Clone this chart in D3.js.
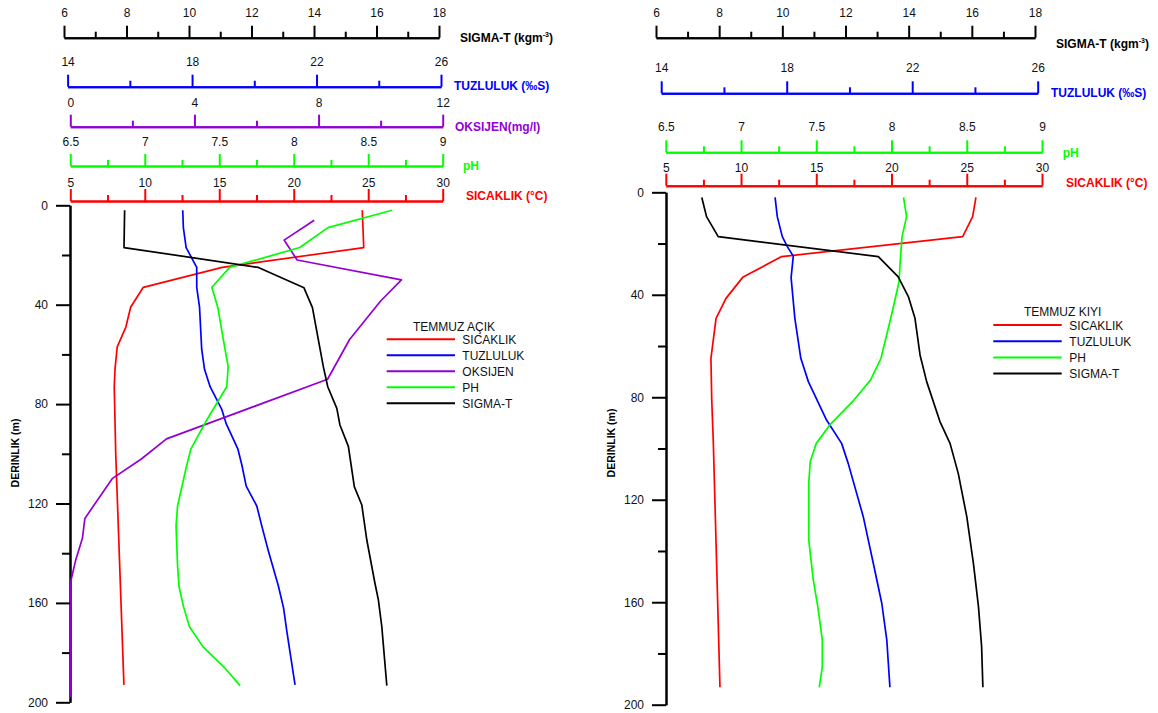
<!DOCTYPE html>
<html>
<head>
<meta charset="utf-8">
<script src="https://cdn.jsdelivr.net/npm/d3@7"></script>
<style>
  body { margin: 0; background: #fff; }
  svg { display: block; font-family: "Liberation Sans", Arial, sans-serif; }
</style>
</head>
<body>
<svg id="chart" width="1158" height="713"></svg>
<script>
// ---- Tick labels of the scales ----
const sigmaTicks = [6, 8, 10, 12, 14, 16, 18];
const tuzTicks = [14, 18, 22, 26];
const oksTicks = [0, 4, 8, 12];
const phTicks = [6.5, 7, 7.5, 8, 8.5, 9];
const sicTicks = [5, 10, 15, 20, 25, 30];
const depthTicks = [0, 40, 80, 120, 160, 200];

// ---- TEMMUZ AÇIK profiles (depth in m, value) ----
const acikSicDepth = [2, 17, 25, 33, 41, 49, 57, 66, 73, 100, 193];
const acikSic      = [24.6, 24.7, 15.2, 9.9, 9.05, 8.73, 8.15, 8.0, 7.95, 8.05, 8.6];

const acikTuzDepth = [2, 9, 17, 25, 33, 41, 58, 66, 73, 82, 88, 98, 104.5, 113, 121, 129, 139, 153, 162, 171, 180, 193];
const acikTuz      = [17.7, 17.72, 17.81, 18.15, 18.15, 18.24, 18.31, 18.4, 18.58, 18.95, 19.1, 19.47, 19.6, 19.74, 20.08, 20.24, 20.45, 20.77, 20.94, 21.04, 21.15, 21.31];

const acikOksDepth = [6, 14, 22, 30, 38.5, 54, 70, 94, 102, 110, 126, 134, 142.5, 151, 175, 198];
const acikOks      = [7.86, 6.89, 7.31, 10.67, 10.0, 9.0, 8.29, 3.1, 2.3, 1.35, 0.47, 0.39, 0.18, 0.02, 0, 0.01];

const acikPhDepth = [2, 9, 17, 25, 33, 41, 55, 65, 73, 87, 98, 105, 121, 129, 145, 153.5, 161.5, 169.6, 177.6, 185.7, 193.3];
const acikPh      = [8.66, 8.23, 8.04, 7.57, 7.45, 7.49, 7.53, 7.56, 7.55, 7.41, 7.31, 7.28, 7.22, 7.21, 7.22, 7.23, 7.26, 7.30, 7.39, 7.53, 7.64];

const acikSigmaDepth = [2, 17, 25, 33.2, 41.2, 57.6, 65, 73, 81.7, 88.4, 97, 113.2, 120.6, 134.7, 152.1, 158.8, 169.6, 193.3];
const acikSigma      = [7.94, 7.92, 12.22, 13.68, 13.95, 14.19, 14.3, 14.44, 14.73, 14.83, 15.1, 15.29, 15.53, 15.69, 15.95, 16.06, 16.17, 16.33];

// ---- TEMMUZ KIYI profiles (depth in m, value) ----
const kiyiSicDepth = [2, 9.5, 17.3, 25.1, 33.2, 41.4, 49.2, 64.8, 80.4, 98, 193.2];
const kiyiSic      = [25.61, 25.39, 24.73, 12.7, 10.11, 9.0, 8.34, 8.0, 8.05, 8.16, 8.6];

const kiyiTuzDepth = [2, 9.5, 17.3, 21.2, 24.9, 33.3, 49.2, 64.8, 73.9, 88.9, 98, 105.8, 126.6, 144.8, 160.4, 174.7, 193.2];
const kiyiTuz      = [17.63, 17.70, 17.86, 18.02, 18.21, 18.14, 18.26, 18.45, 18.69, 19.27, 19.75, 19.96, 20.44, 20.76, 21.03, 21.19, 21.29];

const kiyiPhDepth = [2, 9.5, 17.3, 25.1, 34.9, 47.9, 64.8, 73.3, 81.1, 90.8, 98, 105.1, 113.6, 135.7, 151.3, 161.7, 174.7, 185.2, 193.2];
const kiyiPh      = [8.08, 8.10, 8.07, 8.06, 8.05, 8.0, 7.93, 7.86, 7.75, 7.59, 7.50, 7.46, 7.45, 7.45, 7.48, 7.51, 7.54, 7.54, 7.52];

const kiyiSigmaDepth = [2, 9.5, 17.3, 25.1, 33, 40.7, 49.2, 63.5, 73.9, 89.5, 98, 109.7, 126.6, 144.8, 161.7, 177.4, 193.2];
const kiyiSigma      = [7.45, 7.6, 7.97, 13.04, 13.67, 13.99, 14.2, 14.36, 14.57, 14.99, 15.31, 15.57, 15.84, 16.05, 16.21, 16.31, 16.35];

// ---- drawing ----
const svg = d3.select("#chart");
const COLORS = { sic: "#ff0000", tuz: "#0000ff", oks: "#9400d3", ph: "#00ff00", sigma: "#000000" };

// midpoints between consecutive major ticks
const minorOf = t => d3.pairs(t).map(([a, b]) => (a + b) / 2);

function topAxis(spec) {
  const scale = d3.scaleLinear().domain([spec.ticks[0], spec.ticks[spec.ticks.length - 1]]).range([spec.x0, spec.x1]);
  const g = svg.append("g").attr("transform", `translate(0,${spec.y})`).attr("color", spec.color);
  g.append("g").call(d3.axisTop(scale).tickValues(minorOf(spec.ticks)).tickSize(6).tickSizeOuter(0).tickFormat(""));
  g.append("g").call(d3.axisTop(scale).tickValues(spec.ticks).tickSize(12).tickSizeOuter(0)
      .tickPadding(spec.pad).tickFormat(d => String(d)));
  g.selectAll("path, line").attr("stroke-width", 2);
  g.selectAll("text").attr("fill", "#111").attr("font-size", 12).attr("font-family", "Liberation Sans, Arial, sans-serif");
  const title = svg.append("text").attr("x", spec.tx).attr("y", spec.ty + 4)
    .attr("fill", spec.color).attr("font-weight", "bold").attr("font-size", 12);
  if (spec.sup) {
    title.append("tspan").text(spec.title);
    title.append("tspan").text(spec.sup).attr("font-size", 7).attr("dy", -5);
    title.append("tspan").text(")").attr("dy", 5);
  } else {
    title.text(spec.title);
  }
  return scale;
}

function depthAxis(spec) {
  const scale = d3.scaleLinear().domain([0, 200]).range([spec.y0, spec.y1]);
  const g = svg.append("g").attr("transform", `translate(${spec.x},0)`).attr("color", "#000");
  g.append("g").call(d3.axisLeft(scale).tickValues(minorOf(depthTicks)).tickSize(8).tickSizeOuter(0).tickFormat(""));
  g.append("g").call(d3.axisLeft(scale).tickValues(depthTicks).tickSize(14).tickSizeOuter(0).tickPadding(8));
  g.selectAll("path, line").attr("stroke-width", 2);
  g.selectAll("text").attr("fill", "#111").attr("font-size", 12).attr("font-family", "Liberation Sans, Arial, sans-serif");
  svg.append("text").attr("transform", `translate(${spec.tx},${spec.ty}) rotate(-90)`)
    .attr("text-anchor", "middle").attr("dy", 4).attr("font-weight", "bold").attr("font-size", 10.5)
    .attr("fill", "#000").text("DERINLIK (m)");
  return scale;
}

function profile(scaleX, scaleY, depths, values, color) {
  const pts = depths.map((d, i) => [d, values[i]]);
  svg.append("path").datum(pts)
    .attr("fill", "none").attr("stroke", color).attr("stroke-width", 1.7).attr("stroke-linejoin", "round")
    .attr("d", d3.line().x(p => scaleX(p[1])).y(p => scaleY(p[0])));
}

function legend(spec) {
  svg.append("text").attr("x", spec.tx).attr("y", spec.ty + 4).attr("font-size", 12).attr("fill", "#111").text(spec.title);
  spec.items.forEach((it, i) => {
    const y = spec.y0 + i * spec.step;
    svg.append("line").attr("x1", spec.x0).attr("x2", spec.x1).attr("y1", y).attr("y2", y)
      .attr("stroke", it.color).attr("stroke-width", 2);
    svg.append("text").attr("x", spec.lx).attr("y", y + 4.5).attr("font-size", 12).attr("fill", "#111").text(it.label);
  });
}

// ---- TEMMUZ AÇIK panel ----
const aSigma = topAxis({ ticks: sigmaTicks, x0: 64, x1: 439, y: 37.7, pad: 8.5, color: COLORS.sigma, title: "SIGMA-T (kgm", sup: "-3", tx: 460, ty: 37.7 });
const aTuz = topAxis({ ticks: tuzTicks, x0: 67.6, x1: 441, y: 86.7, pad: 8.5, color: COLORS.tuz, title: "TUZLULUK (‰S)", tx: 454, ty: 86 });
const aOks = topAxis({ ticks: oksTicks, x0: 70.3, x1: 442.7, y: 126.7, pad: 8, color: COLORS.oks, title: "OKSIJEN(mg/l)", tx: 455, ty: 127 });
const aPh = topAxis({ ticks: phTicks, x0: 70.3, x1: 442.7, y: 166, pad: 8, color: COLORS.ph, title: "pH", tx: 463, ty: 166 });
const aSic = topAxis({ ticks: sicTicks, x0: 70.3, x1: 442.7, y: 201, pad: 2.5, color: COLORS.sic, title: "SICAKLIK (°C)", tx: 466, ty: 196 });
const aDepth = depthAxis({ x: 70, y0: 205.3, y1: 702.3, tx: 15, ty: 453 });

profile(aSic, aDepth, acikSicDepth, acikSic, COLORS.sic);
profile(aTuz, aDepth, acikTuzDepth, acikTuz, COLORS.tuz);
profile(aOks, aDepth, acikOksDepth, acikOks, COLORS.oks);
profile(aPh, aDepth, acikPhDepth, acikPh, COLORS.ph);
profile(aSigma, aDepth, acikSigmaDepth, acikSigma, COLORS.sigma);

legend({
  title: "TEMMUZ AÇIK", tx: 413, ty: 326.7, x0: 386.7, x1: 455, lx: 462.3, y0: 339.3, step: 16,
  items: [
    { label: "SICAKLIK", color: COLORS.sic },
    { label: "TUZLULUK", color: COLORS.tuz },
    { label: "OKSIJEN", color: COLORS.oks },
    { label: "PH", color: COLORS.ph },
    { label: "SIGMA-T", color: COLORS.sigma }
  ]
});

// ---- TEMMUZ KIYI panel ----
const kSigma = topAxis({ ticks: sigmaTicks, x0: 656, x1: 1035, y: 37.7, pad: 8.5, color: COLORS.sigma, title: "SIGMA-T (kgm", sup: "-3", tx: 1056, ty: 44.3 });
const kTuz = topAxis({ ticks: tuzTicks, x0: 661.2, x1: 1037.7, y: 93.3, pad: 9, color: COLORS.tuz, title: "TUZLULUK (‰S)", tx: 1051, ty: 93.3 });
const kPh = topAxis({ ticks: phTicks, x0: 665.8, x1: 1042, y: 152.3, pad: 9, color: COLORS.ph, title: "pH", tx: 1062.7, ty: 153.3 });
const kSic = topAxis({ ticks: sicTicks, x0: 665.8, x1: 1042, y: 185.7, pad: 2, color: COLORS.sic, title: "SICAKLIK (°C)", tx: 1066, ty: 183.3 });
const kDepth = depthAxis({ x: 666, y0: 192.3, y1: 704.7, tx: 611, ty: 443 });

profile(kSic, kDepth, kiyiSicDepth, kiyiSic, COLORS.sic);
profile(kTuz, kDepth, kiyiTuzDepth, kiyiTuz, COLORS.tuz);
profile(kPh, kDepth, kiyiPhDepth, kiyiPh, COLORS.ph);
profile(kSigma, kDepth, kiyiSigmaDepth, kiyiSigma, COLORS.sigma);

legend({
  title: "TEMMUZ KIYI", tx: 1024, ty: 311.7, x0: 993.3, x1: 1061.7, lx: 1069.3, y0: 325, step: 16.2,
  items: [
    { label: "SICAKLIK", color: COLORS.sic },
    { label: "TUZLULUK", color: COLORS.tuz },
    { label: "PH", color: COLORS.ph },
    { label: "SIGMA-T", color: COLORS.sigma }
  ]
});
</script>
</body>
</html>
